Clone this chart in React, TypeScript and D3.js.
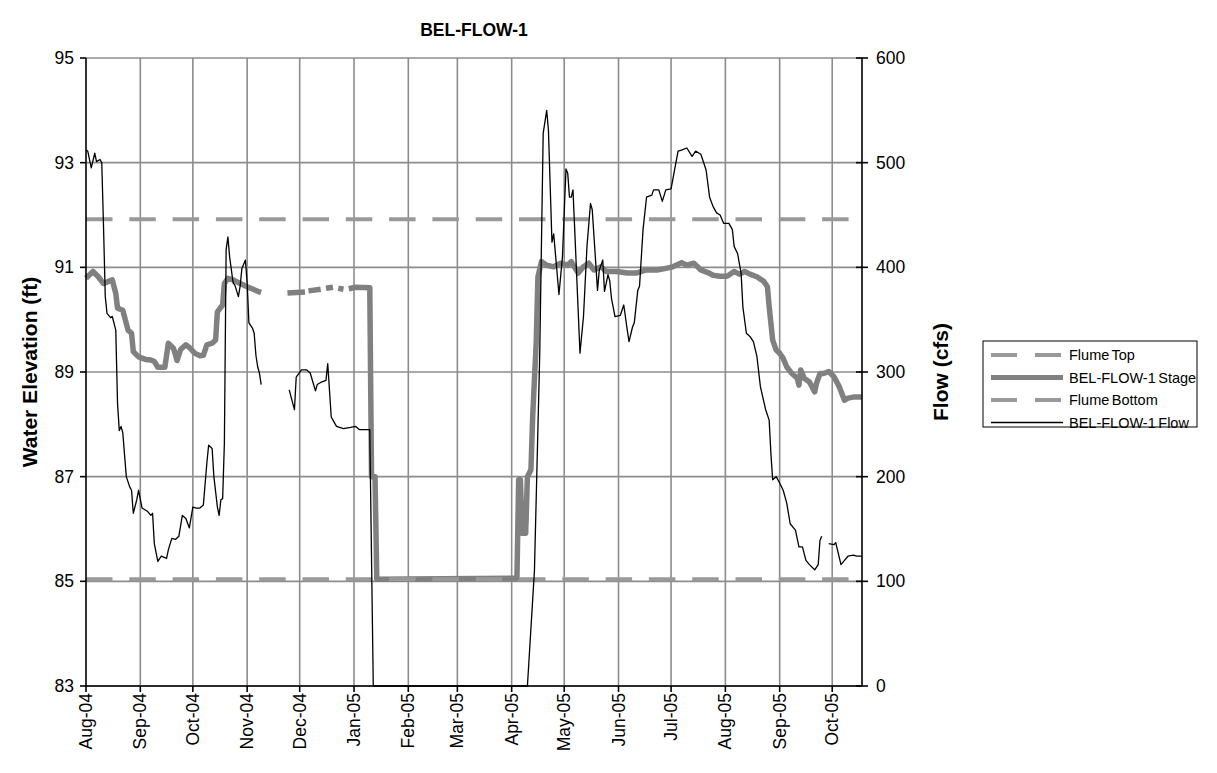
import * as d3 from "d3";

// BEL-FLOW-1 stage (ft) and flow (cfs). null = gap in record
const stageSeries: [string, number | null][] = [
  ["2004-08-01", 90.79], ["2004-08-05", 90.92], ["2004-08-08", 90.82], ["2004-08-11", 90.69],
  ["2004-08-16", 90.76], ["2004-08-18", 90.5], ["2004-08-19", 90.22], ["2004-08-22", 90.18],
  ["2004-08-25", 89.8], ["2004-08-27", 89.74], ["2004-08-28", 89.39], ["2004-08-31", 89.29],
  ["2004-09-04", 89.24], ["2004-09-07", 89.23], ["2004-09-09", 89.2], ["2004-09-11", 89.09],
  ["2004-09-15", 89.09], ["2004-09-17", 89.55], ["2004-09-20", 89.45], ["2004-09-22", 89.22],
  ["2004-09-24", 89.43], ["2004-09-27", 89.52], ["2004-09-29", 89.47], ["2004-10-02", 89.36],
  ["2004-10-05", 89.31], ["2004-10-07", 89.32], ["2004-10-09", 89.52], ["2004-10-12", 89.55],
  ["2004-10-14", 89.61], ["2004-10-15", 90.15], ["2004-10-18", 90.28], ["2004-10-19", 90.69],
  ["2004-10-21", 90.79], ["2004-10-24", 90.76], ["2004-10-28", 90.69], ["2004-11-01", 90.63],
  ["2004-11-03", 90.6], ["2004-11-08", 90.53], ["2004-11-09", 90.52], ["2004-11-10", null],
  ["2004-11-24", 90.51], ["2004-12-04", 90.53], ["2004-12-05", null], ["2004-12-06", 90.55],
  ["2004-12-13", 90.58], ["2004-12-14", null], ["2004-12-16", 90.6], ["2004-12-20", 90.62],
  ["2004-12-21", null], ["2004-12-23", 90.6], ["2004-12-26", 90.58], ["2004-12-27", null],
  ["2004-12-29", 90.59], ["2005-01-02", 90.62], ["2005-01-10", 90.61], ["2005-01-11", 87.0],
  ["2005-01-13", 87.0], ["2005-01-14", 85.04], ["2005-04-04", 85.06], ["2005-04-05", 86.94],
  ["2005-04-06", 86.94], ["2005-04-07", 85.92], ["2005-04-09", 85.92], ["2005-04-10", 87.0],
  ["2005-04-12", 87.13], ["2005-04-13", 88.15], ["2005-04-15", 89.55], ["2005-04-16", 90.82],
  ["2005-04-18", 91.11], ["2005-04-21", 91.04], ["2005-04-25", 91.01], ["2005-04-29", 91.08],
  ["2005-05-03", 91.04], ["2005-05-05", 91.11], ["2005-05-09", 90.89], ["2005-05-12", 91.01],
  ["2005-05-15", 91.08], ["2005-05-18", 90.95], ["2005-05-22", 91.01], ["2005-05-25", 90.92],
  ["2005-05-31", 90.92], ["2005-06-06", 90.89], ["2005-06-11", 90.89], ["2005-06-17", 90.95],
  ["2005-06-23", 90.95], ["2005-06-28", 90.98], ["2005-07-02", 91.01], ["2005-07-07", 91.09],
  ["2005-07-10", 91.04], ["2005-07-14", 91.08], ["2005-07-18", 90.95], ["2005-07-22", 90.9],
  ["2005-07-25", 90.85], ["2005-07-29", 90.83], ["2005-08-02", 90.83], ["2005-08-06", 90.92],
  ["2005-08-09", 90.87], ["2005-08-12", 90.92], ["2005-08-15", 90.87], ["2005-08-19", 90.82],
  ["2005-08-23", 90.73], ["2005-08-25", 90.63], ["2005-08-26", 90.25], ["2005-08-28", 89.61],
  ["2005-08-30", 89.42], ["2005-09-01", 89.36], ["2005-09-03", 89.26], ["2005-09-05", 89.1],
  ["2005-09-08", 88.97], ["2005-09-11", 88.88], ["2005-09-12", 88.75], ["2005-09-13", 89.04],
  ["2005-09-15", 88.88], ["2005-09-18", 88.81], ["2005-09-21", 88.62], ["2005-09-22", 88.78],
  ["2005-09-24", 88.97], ["2005-09-26", 88.97], ["2005-09-29", 89.01], ["2005-10-02", 88.91],
  ["2005-10-05", 88.72], ["2005-10-08", 88.46], ["2005-10-10", 88.5], ["2005-10-13", 88.52],
  ["2005-10-18", 88.52],
];

const flowSeries: [string, number | null][] = [
  ["2004-08-01", 512], ["2004-08-02", 511], ["2004-08-04", 495], ["2004-08-06", 509],
  ["2004-08-07", 501], ["2004-08-09", 503], ["2004-08-10", 500], ["2004-08-11", 439],
  ["2004-08-12", 372], ["2004-08-13", 356], ["2004-08-15", 352], ["2004-08-16", 353],
  ["2004-08-18", 340], ["2004-08-19", 270], ["2004-08-20", 244], ["2004-08-21", 248],
  ["2004-08-22", 242], ["2004-08-24", 200], ["2004-08-26", 190], ["2004-08-27", 187],
  ["2004-08-28", 165], ["2004-08-30", 178], ["2004-08-31", 187], ["2004-09-02", 170],
  ["2004-09-05", 167], ["2004-09-07", 163], ["2004-09-08", 165], ["2004-09-09", 136],
  ["2004-09-11", 119], ["2004-09-13", 124], ["2004-09-16", 122], ["2004-09-17", 130],
  ["2004-09-19", 141], ["2004-09-21", 140], ["2004-09-23", 143], ["2004-09-25", 163],
  ["2004-09-27", 160], ["2004-09-29", 151], ["2004-10-01", 171], ["2004-10-03", 170],
  ["2004-10-05", 170], ["2004-10-07", 173], ["2004-10-09", 213], ["2004-10-10", 230],
  ["2004-10-12", 227], ["2004-10-13", 200], ["2004-10-15", 171], ["2004-10-16", 163],
  ["2004-10-17", 178], ["2004-10-18", 179], ["2004-10-19", 232], ["2004-10-20", 417],
  ["2004-10-21", 429], ["2004-10-22", 410], ["2004-10-24", 385], ["2004-10-25", 383],
  ["2004-10-27", 372], ["2004-10-28", 382], ["2004-10-29", 399], ["2004-10-31", 407],
  ["2004-11-01", 385], ["2004-11-02", 347], ["2004-11-04", 342], ["2004-11-05", 337],
  ["2004-11-06", 316], ["2004-11-07", 305], ["2004-11-08", 299], ["2004-11-09", 288],
  ["2004-11-10", null],
  ["2004-11-25", 283], ["2004-11-28", 264], ["2004-11-29", 295], ["2004-12-02", 302],
  ["2004-12-05", 302], ["2004-12-07", 299], ["2004-12-10", 282], ["2004-12-11", 288],
  ["2004-12-13", 290], ["2004-12-16", 292], ["2004-12-17", 308], ["2004-12-19", 257],
  ["2004-12-20", 254], ["2004-12-22", 248], ["2004-12-26", 246], ["2004-12-30", 247],
  ["2005-01-02", 248], ["2005-01-04", 245], ["2005-01-10", 245], ["2005-01-12", 0],
  ["2005-04-10", 0], ["2005-04-14", 110], ["2005-04-17", 315], ["2005-04-19", 528],
  ["2005-04-21", 550], ["2005-04-22", 531], ["2005-04-24", 424], ["2005-04-25", 432],
  ["2005-04-28", 374], ["2005-04-30", 410], ["2005-05-02", 494], ["2005-05-03", 490],
  ["2005-05-04", 467], ["2005-05-05", 467], ["2005-05-06", 474], ["2005-05-07", 436],
  ["2005-05-10", 318], ["2005-05-12", 353], ["2005-05-14", 420], ["2005-05-16", 461],
  ["2005-05-17", 455], ["2005-05-19", 404], ["2005-05-20", 378], ["2005-05-21", 397],
  ["2005-05-23", 407], ["2005-05-24", 377], ["2005-05-26", 393], ["2005-05-27", 387],
  ["2005-05-28", 370], ["2005-05-30", 353], ["2005-06-02", 354], ["2005-06-04", 364],
  ["2005-06-06", 340], ["2005-06-07", 329], ["2005-06-09", 343], ["2005-06-10", 347],
  ["2005-06-12", 378], ["2005-06-13", 382], ["2005-06-15", 436], ["2005-06-17", 467],
  ["2005-06-20", 469], ["2005-06-21", 474], ["2005-06-24", 474], ["2005-06-26", 463],
  ["2005-06-28", 474], ["2005-07-01", 475], ["2005-07-03", 493], ["2005-07-05", 511],
  ["2005-07-07", 512], ["2005-07-10", 514], ["2005-07-13", 506], ["2005-07-15", 511],
  ["2005-07-18", 508], ["2005-07-19", 503], ["2005-07-21", 493], ["2005-07-23", 467],
  ["2005-07-25", 458], ["2005-07-27", 452], ["2005-07-29", 450], ["2005-07-31", 442],
  ["2005-08-03", 442], ["2005-08-05", 436], ["2005-08-06", 420], ["2005-08-08", 413],
  ["2005-08-10", 394], ["2005-08-11", 362], ["2005-08-13", 337], ["2005-08-15", 334],
  ["2005-08-17", 329], ["2005-08-19", 315], ["2005-08-21", 286], ["2005-08-24", 264],
  ["2005-08-26", 254], ["2005-08-27", 222], ["2005-08-28", 197], ["2005-08-30", 200],
  ["2005-09-01", 194], ["2005-09-03", 187], ["2005-09-05", 175], ["2005-09-07", 155],
  ["2005-09-10", 149], ["2005-09-12", 133], ["2005-09-14", 133], ["2005-09-16", 120],
  ["2005-09-18", 116], ["2005-09-21", 111], ["2005-09-23", 116], ["2005-09-24", 139],
  ["2005-09-25", 143], ["2005-09-27", null],
  ["2005-09-29", 136], ["2005-10-02", 135], ["2005-10-03", 137], ["2005-10-06", 116],
  ["2005-10-08", 120], ["2005-10-10", 124], ["2005-10-13", 125], ["2005-10-15", 124],
  ["2005-10-18", 124],
];

const flumeTop = 91.92;
const flumeBottom = 85.04;
const dateRange = ["2004-08-01", "2005-10-18"];
const monthTicks = [
  "2004-08-01", "2004-09-01", "2004-10-01", "2004-11-01", "2004-12-01", "2005-01-01",
  "2005-02-01", "2005-03-01", "2005-04-01", "2005-05-01", "2005-06-01", "2005-07-01",
  "2005-08-01", "2005-09-01", "2005-10-01",
];
const elevTicks = [83, 85, 87, 89, 91, 93, 95];
const flowTicks = [0, 100, 200, 300, 400, 500, 600];
const legendLabels = ["Flume Top", "BEL-FLOW-1 Stage", "Flume Bottom", "BEL-FLOW-1 Flow"];

const W = 1217, H = 773;
const left = 86, right = 862, top = 58, bottom = 686;
const font = "'Liberation Sans', Arial, sans-serif";
const gridColor = "#8c8c8c";
const stageColor = "#808080";
const flumeColor = "#999999";
const flumeDash = "26.5,16.8";

export default function App() {
  const parse = d3.timeParse("%Y-%m-%d");
  const fmt = d3.timeFormat("%b-%y");
  const x = d3.scaleTime(dateRange.map((d) => parse(d) as Date), [left, right]);
  const yL = d3.scaleLinear([83, 95], [bottom, top]);
  const yR = d3.scaleLinear([0, 600], [bottom, top]);

  const stageLine = d3
    .line<[string, number | null]>()
    .defined((d) => d[1] !== null)
    .x((d) => x(parse(d[0]) as Date))
    .y((d) => yL(d[1] as number));
  const flowLine = d3
    .line<[string, number | null]>()
    .defined((d) => d[1] !== null)
    .x((d) => x(parse(d[0]) as Date))
    .y((d) => yR(d[1] as number));
  const flat = (v: number) =>
    stageLine(dateRange.map((d) => [d, v] as [string, number])) || "";

  const legX = 983, legY = 341, legW = 214, legH = 86;
  const legendStyles = [
    { stroke: flumeColor, width: 4, dash: flumeDash },
    { stroke: stageColor, width: 5, dash: undefined },
    { stroke: flumeColor, width: 4, dash: flumeDash },
    { stroke: "#000", width: 1.3, dash: undefined },
  ];

  return (
    <svg width={W} height={H} style={{ position: "absolute", left: 0, top: 0, background: "#fff" }} fontFamily={font}>
      <rect width={W} height={H} fill="#fff" />
      <text x={474} y={36} textAnchor="middle" fontWeight="bold" fontSize={17.5}>BEL-FLOW-1</text>

      {/* grid */}
      <g stroke={gridColor} strokeWidth={1.6}>
        {elevTicks.map((t) => (
          <line key={t} x1={left} x2={right} y1={yL(t)} y2={yL(t)} />
        ))}
        {monthTicks.slice(1).map((t) => (
          <line key={t} x1={x(parse(t) as Date)} x2={x(parse(t) as Date)} y1={top} y2={bottom} />
        ))}
      </g>

      {/* series */}
      <path d={flat(flumeTop)} fill="none" stroke={flumeColor} strokeWidth={4} strokeDasharray={flumeDash} />
      <path d={stageLine(stageSeries) || ""} fill="none" stroke={stageColor} strokeWidth={5.5} strokeLinejoin="round" />
      <path d={flat(flumeBottom)} fill="none" stroke={flumeColor} strokeWidth={4} strokeDasharray={flumeDash} />
      <path d={flowLine(flowSeries) || ""} fill="none" stroke="#000" strokeWidth={1.3} strokeLinejoin="round" />

      {/* axes */}
      <g stroke="#000" strokeWidth={1.6}>
        <line x1={left} x2={left} y1={top} y2={bottom} />
        <line x1={right} x2={right} y1={top} y2={bottom} />
        <line x1={left} x2={right} y1={bottom} y2={bottom} />
        {elevTicks.map((t) => (
          <line key={t} x1={left - 6} x2={left} y1={yL(t)} y2={yL(t)} />
        ))}
        {flowTicks.map((t) => (
          <line key={t} x1={right - 6} x2={right + 6} y1={yR(t)} y2={yR(t)} />
        ))}
        {monthTicks.map((t) => (
          <line key={t} x1={x(parse(t) as Date)} x2={x(parse(t) as Date)} y1={bottom} y2={bottom + 6} />
        ))}
      </g>
      <g fontSize={17.5} fill="#000">
        {elevTicks.map((t) => (
          <text key={t} x={left - 12} y={yL(t)} dy="0.35em" textAnchor="end">{t}</text>
        ))}
        {flowTicks.map((t) => (
          <text key={t} x={right + 14} y={yR(t)} dy="0.35em">{t}</text>
        ))}
        {monthTicks.map((t) => (
          <text key={t} transform={`translate(${x(parse(t) as Date) + 6},${bottom + 7}) rotate(-90)`} textAnchor="end">
            {fmt(parse(t) as Date)}
          </text>
        ))}
      </g>
      <text transform={`translate(37,${(top + bottom) / 2}) rotate(-90)`} textAnchor="middle" fontWeight="bold" fontSize={21}>
        Water Elevation (ft)
      </text>
      <text transform={`translate(948,${(top + bottom) / 2}) rotate(-90)`} textAnchor="middle" fontWeight="bold" fontSize={21}>
        Flow (cfs)
      </text>

      {/* legend */}
      <rect x={legX} y={legY} width={legW} height={legH} fill="#fff" stroke="#000" strokeWidth={1} />
      {legendLabels.map((name, i) => {
        const cy = legY + 14 + i * 22.5;
        const s = legendStyles[i];
        return (
          <g key={name}>
            <line x1={legX + 8} x2={legX + 80} y1={cy} y2={cy} stroke={s.stroke} strokeWidth={s.width} strokeDasharray={s.dash ? "26,18" : undefined} />
            <text x={legX + 86} y={cy} dy="0.35em" fontSize={14.5} wordSpacing={-1.5}>{name}</text>
          </g>
        );
      })}
    </svg>
  );
}
